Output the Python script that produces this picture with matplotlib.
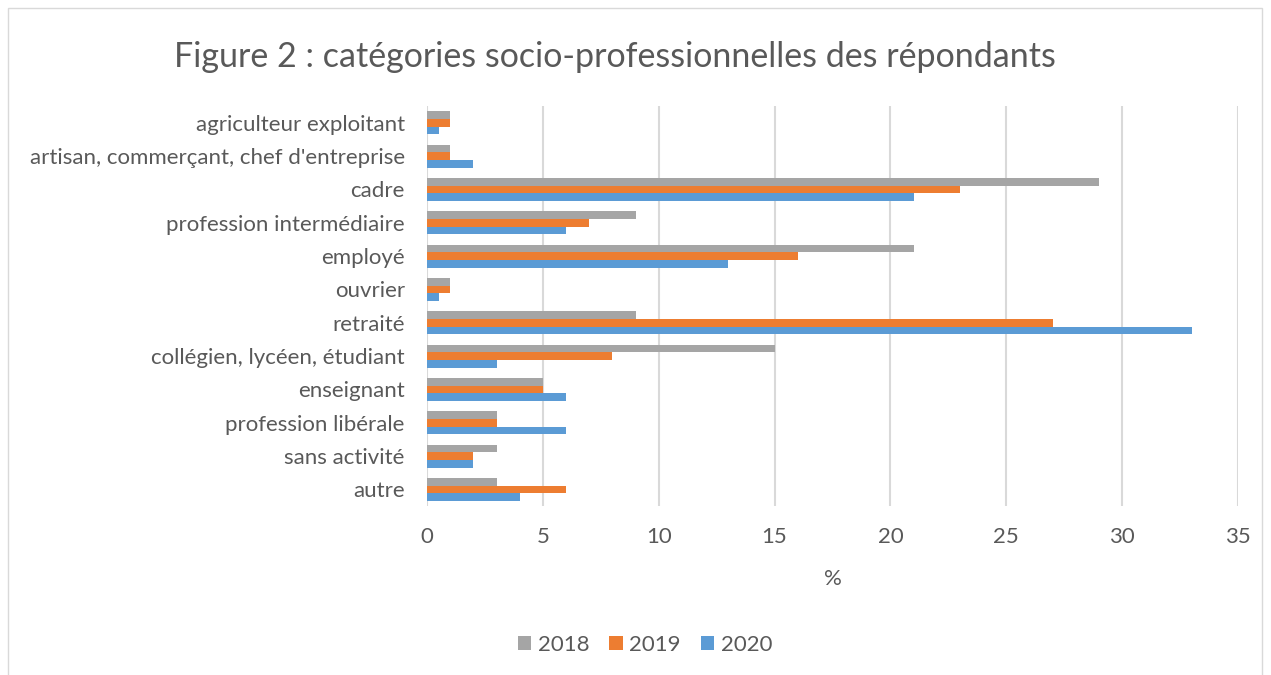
import matplotlib
matplotlib.use("Agg")
import matplotlib.pyplot as plt
from matplotlib.patches import Rectangle
import numpy as np

categories = [
    "agriculteur exploitant",
    "artisan, commerçant, chef d'entreprise",
    "cadre",
    "profession intermédiaire",
    "employé",
    "ouvrier",
    "retraité",
    "collégien, lycéen, étudiant",
    "enseignant",
    "profession libérale",
    "sans activité",
    "autre",
]
values_2018 = [1, 1, 29, 9, 21, 1, 9, 15, 5, 3, 3, 3]
values_2019 = [1, 1, 23, 7, 16, 1, 27, 8, 5, 3, 2, 6]
values_2020 = [0.5, 2, 21, 6, 13, 0.5, 33, 3, 6, 6, 2, 4]
years = ["2018", "2019", "2020"]
colors = ["#a5a5a5", "#ed7d31", "#5b9bd5"]

plt.rcParams["font.family"] = ["Lato", "DejaVu Sans"]
text_color = "#595959"

fig = plt.figure(figsize=(12.71, 6.75), dpi=100)
ax = fig.add_axes([427 / 1271, 1 - 506 / 675, (1238 - 427) / 1271, 400 / 675])

n = len(categories)
y = np.arange(n)[::-1]
h = 0.23
series = [values_2018, values_2019, values_2020]
offsets = [h, 0, -h]
for vals, off, col, lab in zip(series, offsets, colors, years):
    ax.barh(y + off, vals, height=h, color=col, label=lab, zorder=3)

ax.set_xlim(0, 35)
ax.set_ylim(-0.5, n - 0.5)
ax.set_xticks(range(0, 36, 5))
ax.set_yticks(y)
ax.set_yticklabels(categories)
ax.tick_params(axis="both", length=0, labelsize=16, colors=text_color)
ax.tick_params(axis="x", pad=15)
ax.tick_params(axis="y", pad=16)
ax.xaxis.grid(True, color="#d9d9d9", linewidth=1.5, zorder=0)
for s in ax.spines.values():
    s.set_visible(False)
ax.set_xlabel("%", fontsize=16, color=text_color, labelpad=16)

fig.suptitle("Figure 2 : catégories socio-professionnelles des répondants",
             fontsize=24.5, color=text_color, x=615 / 1271, y=1 - 57 / 675, va="center")

handles, labels = ax.get_legend_handles_labels()
fig.legend(handles, labels, loc="center", bbox_to_anchor=(645 / 1271, 1 - 645 / 675),
           ncol=3, frameon=False, fontsize=16, labelcolor=text_color,
           handlelength=0.6, handleheight=0.6, columnspacing=0.9, handletextpad=0.3)

fig.patches.append(Rectangle((8 / 1271, -0.01), 1254 / 1271, 1 - 8 / 675 + 0.01,
                             transform=fig.transFigure, fill=False,
                             edgecolor="#d9d9d9", linewidth=1))

fig.savefig("out.png", dpi=100)
